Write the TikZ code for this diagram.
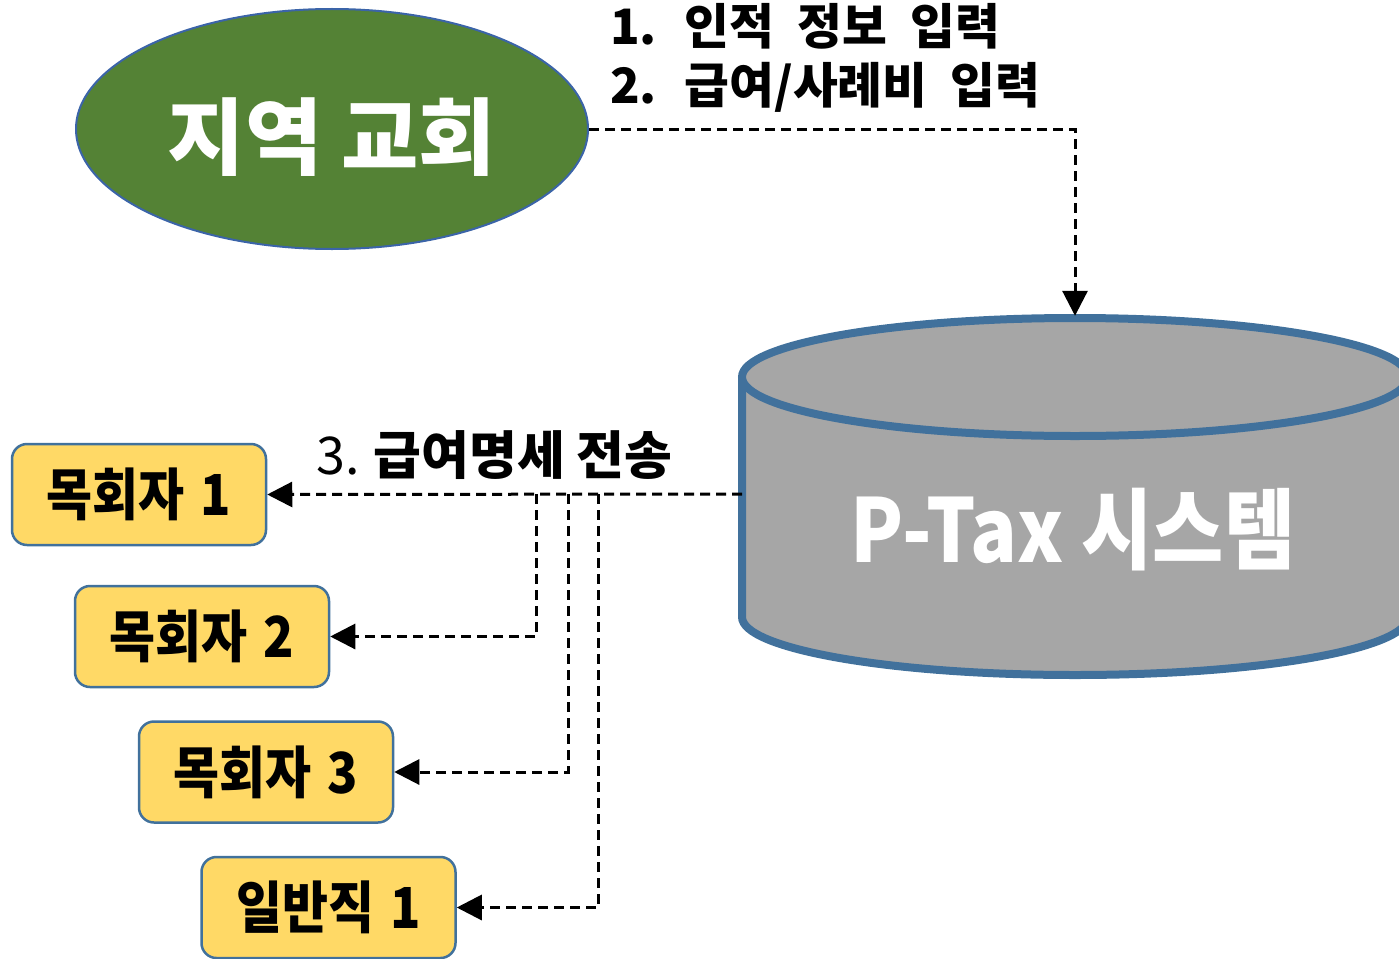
\documentclass[tikz,border=0pt]{standalone}
\usepackage{fontspec}
\usepackage{graphicx}
\setmainfont{Noto Sans CJK KR}
\usetikzlibrary{arrows.meta,shapes.geometric}
\definecolor{grn}{HTML}{548235}
\definecolor{ellb}{HTML}{3B64A8}
\definecolor{cylb}{HTML}{41719C}
\definecolor{cylf}{HTML}{A6A6A6}
\definecolor{yel}{HTML}{FFD966}
\definecolor{boxb}{HTML}{41719C}
\newcommand{\tallx}[1]{\scalebox{1}[1.13]{#1}}
\tikzset{
  conn/.style={draw=black, line width=3pt, dash pattern=on 10pt off 6pt, -{Triangle[length=25pt,width=25pt]}},
  pbox/.style={draw=boxb, fill=yel, line width=2.5pt, rounded corners=15pt, minimum width=254pt, minimum height=101pt, inner sep=0pt, font=\bfseries\fontsize{50}{50}\selectfont},
  cyl/.style={draw=cylb, line width=8pt},
  lbl/.style={anchor=base west, inner sep=0pt, font=\bfseries\fontsize{46}{46}\selectfont}
}
\begin{document}
\begin{tikzpicture}[x=1pt,y=-1pt]
\useasboundingbox (0,0) rectangle (1399,958);
% church
\node[ellipse, fill=grn, draw=ellb, line width=2pt, minimum width=512pt, minimum height=240pt, inner sep=0pt] (church) at (332,129) {};
\node[text=white, inner sep=0pt, font=\bfseries\fontsize{84}{84}\selectfont] (churchtxt) at (332,137) {지역 교회};
% labels
\node[lbl] (l1) at (610,45) {\scalebox{1.06}[1.06]{1.\hspace{26pt}인적\hspace{22pt}정보\hspace{22pt}입력}};
\node[lbl] (l2) at (610,103) {\scalebox{1.06}[1.06]{2.\hspace{26pt}급여/사례비\hspace{22pt}입력}};
% cylinder
\fill[cylf] (742,377) -- (742,617) arc[start angle=180,end angle=0,x radius=333,y radius=58] -- (1408,377) -- cycle;
\draw[cyl] (742,377) -- (742,617) arc[start angle=180,end angle=0,x radius=333,y radius=58] -- (1408,377);
\draw[cyl, fill=cylf] (1075,377) ellipse[x radius=333, y radius=59];
\node[inner sep=0pt, minimum width=666pt, minimum height=362pt] (db) at (1075,497) {};
\node[text=white, inner sep=0pt] (ptax) at (1073,530) {\scalebox{0.88}[1]{\bfseries\fontsize{88}{88}\selectfont P-Tax 시스템}};
% boxes
\node[pbox] (p1) at (139,494.5) {\tallx{목회자\hspace{16pt}1}};
\node[pbox] (p2) at (202,636.5) {\tallx{목회자\hspace{16pt}2}};
\node[pbox] (p3) at (266,772) {\tallx{목회자\hspace{16pt}3}};
\node[pbox] (p4) at (328.5,907.5) {\tallx{일반직\hspace{16pt}1}};
% label 3
\node[anchor=base west, inner sep=0pt, font=\fontsize{52}{52}\selectfont] (l3) at (316,474) {3.\hspace{14pt}\textbf{급여명세 전송}};
% connectors
\coordinate (dbL) at (742,494);
\coordinate (b1) at (536,494);
\coordinate (b2) at (568,494);
\coordinate (b3) at (598,494);
\draw[conn] (church.east) -| (db.north);
\draw[conn] (dbL) -- (p1.east);
\draw[conn] (b1) |- (p2.east);
\draw[conn] (b2) |- (p3.east);
\draw[conn] (b3) |- (p4.east);
\end{tikzpicture}
\end{document}
